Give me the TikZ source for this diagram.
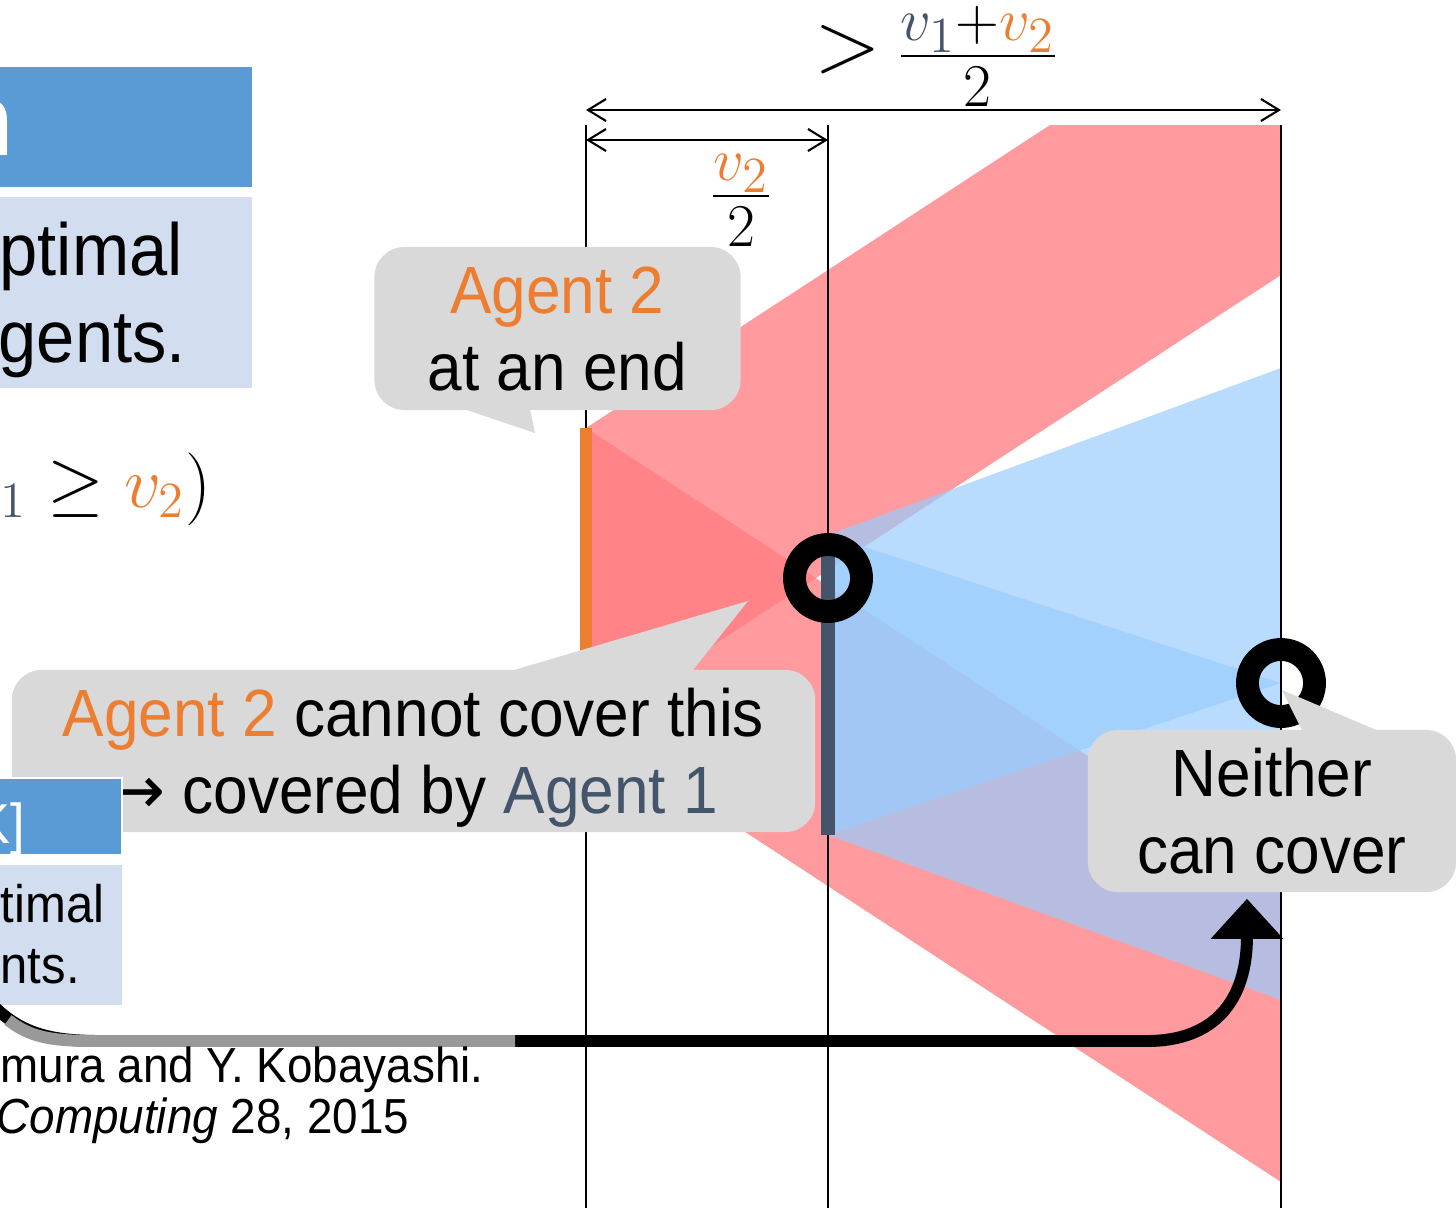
\documentclass[tikz,border=0pt]{standalone}
\usepackage{amsmath}
\usepackage{fontspec}
\setmainfont{Liberation Sans}[FakeStretch=0.93]
\newfontfamily\arrowfont{DejaVu Sans}
\usetikzlibrary{arrows.meta,positioning,calc}
\definecolor{agentOrange}{RGB}{237,125,49}
\definecolor{agentSlate}{RGB}{68,84,106}
\definecolor{headBlue}{RGB}{91,155,213}
\definecolor{paleBlue}{RGB}{210,222,239}
\definecolor{bubbleGray}{RGB}{217,217,217}
\definecolor{reachRed}{RGB}{255,123,127}
\definecolor{reachBlue}{RGB}{154,204,254}
\definecolor{fadeGray}{RGB}{153,153,153}
\tikzset{
  bubble/.style={fill=bubbleGray,rounded corners=3mm,inner sep=0pt,align=center,font=\fontsize{19}{22}\selectfont,text depth=0pt},
  bubble tail/.style={fill=bubbleGray},
  red reach/.style={fill=reachRed,fill opacity=0.76},
  blue reach/.style={fill=reachBlue,fill opacity=0.70},
  guide line/.style={line width=0.45pt,draw=black},
  span arrow/.style={{Straight Barb[length=1.8mm,width=2.2mm]}-{Straight Barb[length=1.8mm,width=2.2mm]},line width=0.6pt},
  span label/.style={anchor=base,inner sep=0pt,font=\fontsize{19}{22}\selectfont},
  ring/.style={circle,draw=black,line width=6.5pt,inner sep=0pt,minimum size=0.67cm},
  side text/.style={anchor=base west,inner sep=0pt},
  bend arrow/.style={line width=3.4pt,-{Triangle[length=4mm,width=7mm]}}
}
\begin{document}
\begin{tikzpicture}[x=0.01cm,y=-0.01cm]
  \useasboundingbox (0,0) rectangle (1456,1208);
  % left column, cut by the frame
  \fill[headBlue] (0,67) rectangle (252,187);
  \node[anchor=base east,inner sep=0pt,text=white,font=\bfseries\fontsize{29}{34}\selectfont] (headtail) at (14,155) {n};
  \fill[paleBlue] (0,197) rectangle (252,388);
  \node[side text,font=\fontsize{21}{25}\selectfont] (claimA) at (-1,275) {ptimal};
  \node[side text,font=\fontsize{21}{25}\selectfont] (claimB) at (-2,362) {gents.};
  \node[side text,font=\fontsize{22}{26}\selectfont] (order) at (-35,507) {$\textcolor{agentSlate}{v_1} \geq \textcolor{agentOrange}{v_2})$};
  % reach regions
  \fill[red reach] (586,428) -- (1050,125) -- (1281,125) -- (1281,275) -- (586,728) -- cycle;
  \fill[red reach] (586,428) -- (1281,882) -- (1281,1182) -- (586,728) -- cycle;
  \fill[blue reach] (828,535) -- (1281,368) -- (1281,683) -- (828,835) -- cycle;
  \fill[blue reach] (828,535) -- (1281,683) -- (1281,1000) -- (828,835) -- cycle;
  % guides and spans
  \coordinate (leftTop) at (586,125);
  \coordinate (midTop) at (828,125);
  \coordinate (rightTop) at (1281,125);
  \draw[guide line] (leftTop) -- (586,1208);
  \draw[guide line] (midTop) -- (828,1208);
  \draw[guide line] (rightTop) -- (1281,1208);
  \draw[span arrow] ($(leftTop)+(0,-15)$) -- ($(rightTop)+(0,-15)$);
  \draw[span arrow] ($(leftTop)+(0,15)$) -- ($(midTop)+(0,15)$);
  \node[span label] (fullspan) at (937,71) {{\fontsize{28}{30}\selectfont$>$}\hspace{1.5mm}$\frac{\textstyle\textcolor{agentSlate}{v_1}{+}\textcolor{agentOrange}{v_2}}{\textstyle\rule{0pt}{13.5pt}2}$};
  \node[span label] (halfspan) at (741,211) {$\frac{\textstyle\textcolor{agentOrange}{v_2}}{\textstyle\rule{0pt}{13.5pt}2}$};
  % agents
  \fill[agentOrange] (580,428) rectangle (592,728);
  \fill[agentSlate] (821,535) rectangle (835,835);
  \node[ring] (meet) at (828,578) {};
  \node[ring] (gap) at (1281,683) {};
  % callouts
  \fill[bubble tail] (437,400) -- (535,433) -- (528,400) -- cycle;
  \node[bubble,minimum width=3.66cm,minimum height=1.63cm] (endnote) at (557.5,328.5) {\textcolor{agentOrange}{Agent 2}\\at an end};
  \fill[bubble tail] (480,680) -- (748,601) -- (685,680) -- cycle;
  \node[bubble,minimum width=8.03cm,minimum height=1.62cm] (covernote) at (413.5,751) {\textcolor{agentOrange}{Agent 2} cannot cover this\\{\arrowfont →} covered by \textcolor{agentSlate}{Agent 1}};
  \fill[bubble tail] (1307,740) -- (1282,690) -- (1400,740) -- cycle;
  \node[bubble,minimum width=3.68cm,minimum height=1.62cm] (neither) at (1272,811) {Neither\\can cover};
  % small boxes over the callout
  \fill[headBlue,draw=white,line width=0.8pt] (-5,778) rectangle (122,855);
  \node[anchor=base east,inner sep=0pt,text=white,font=\fontsize{16}{19}\selectfont] (refkey) at (26,843) {K]};
  \fill[paleBlue] (0,865) rectangle (122,1005);
  \node[side text,font=\fontsize{15}{18}\selectfont] (noteA) at (0,922) {timal};
  \node[side text,font=\fontsize{15}{18}\selectfont] (noteB) at (0,983) {nts.};
  % bent arrow to the right callout
  \coordinate (arrowStart) at (-25,985);
  \coordinate (arrowEnd) at ($(neither.south)+(-25,6)$);
  \draw[bend arrow] (arrowStart) .. controls (10,1030) and (40,1041) .. (100,1041) -- (1147,1041) .. controls (1215,1041) and (1247,1000) .. (arrowEnd);
  \draw[fadeGray,line width=3.4pt] (8,1020) .. controls (30,1037) and (50,1041) .. (95,1041) -- (515,1041);
  % citation
  \node[side text,font=\fontsize{14}{17}\selectfont] (citeA) at (0,1082) {mura and Y. Kobayashi.};
  \node[side text,font=\fontsize{14}{17}\selectfont] (citeB) at (-4,1133) {\textit{Computing} 28, 2015};
\end{tikzpicture}
\end{document}
